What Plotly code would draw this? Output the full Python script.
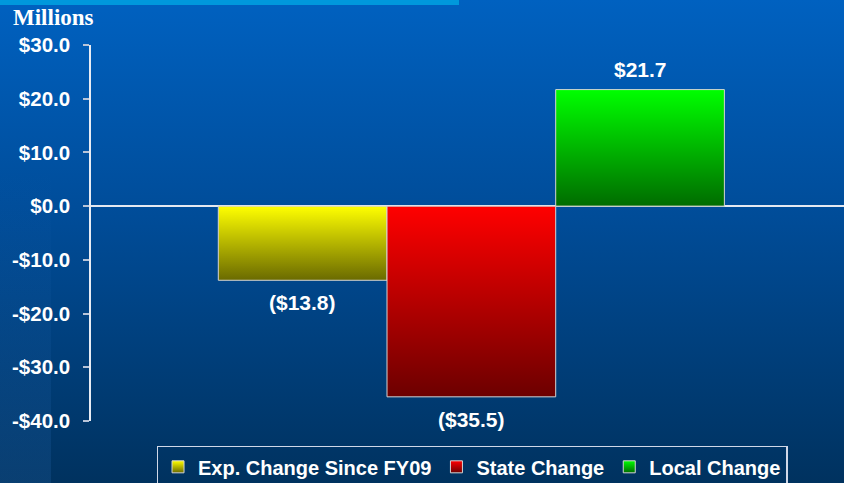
import json
import plotly.graph_objects as go

# ---- data ----
categories = ["Exp. Change Since FY09", "State Change", "Local Change"]
values = [-13.8, -35.5, 21.7]
top_colors = ["#FFFF00", "#FF0000", "#00FF00"]
bottom_colors = ["#6A6A00", "#6C0000", "#006C00"]
mid_colors = ["#B5B500", "#B50000", "#00B500"]
y_tick_vals = [-40, -30, -20, -10, 0, 10, 20, 30]
y_tick_text = ["-$40.0", "-$30.0", "-$20.0", "-$10.0", "$0.0", "$10.0", "$20.0", "$30.0"]
unit_label = "Millions"


def fmt(v):
    return f"${v:.1f}" if v >= 0 else f"(${-v:.1f})"


FONT = "Liberation Sans, Arial, sans-serif"

fig = go.Figure()
for c, v, col in zip(categories, values, mid_colors):
    fig.add_trace(go.Bar(
        x=[c], y=[v], name=c, width=1,
        marker=dict(color=col, line=dict(color="#D4D4D4", width=1)),
        hoverinfo="skip",
    ))

annotations = []
for c, v in zip(categories, values):
    annotations.append(dict(
        x=c, y=v, xref="x", yref="y", text=fmt(v), showarrow=False,
        yanchor="bottom" if v >= 0 else "top",
        yshift=7 if v >= 0 else -9,
        font=dict(family=FONT, size=21, color="white", weight="bold"),
    ))

annotations.append(dict(
    x=-0.1062, y=1.112, xref="paper", yref="paper", xanchor="left", yanchor="top",
    text=unit_label, showarrow=False,
    font=dict(family="Liberation Serif, Times New Roman, serif", size=23,
              color="white", weight="bold"),
))

fig.update_layout(
    width=844, height=483,
    margin=dict(l=91, r=0, t=45, b=62, autoexpand=False),
    paper_bgcolor="rgba(0,0,0,0)",
    plot_bgcolor="rgba(0,0,0,0)",
    barmode="overlay",
    showlegend=True,
    legend=dict(
        orientation="h", x=0.506, xanchor="center", y=-0.066, yanchor="top",
        bgcolor="rgba(0,0,0,0)", bordercolor="#D0D8E8", borderwidth=1.5,
        font=dict(family=FONT, size=20, color="white", weight="bold"),
        itemwidth=30,
    ),
    xaxis=dict(
        type="category", categoryorder="array", categoryarray=categories,
        range=[-1.2546, 3.209], showticklabels=False, showline=False,
        showgrid=False, zeroline=False, ticks="", fixedrange=True,
    ),
    yaxis=dict(
        range=[-40, 30], tickvals=y_tick_vals, ticktext=y_tick_text,
        ticks="outside", ticklen=6, tickwidth=1.5, tickcolor="#B8C4D8",
        showline=True, linecolor="#E8ECF4", linewidth=1.5,
        showgrid=False, zeroline=True, zerolinecolor="#E4E8F0", zerolinewidth=1.5,
        tickfont=dict(family=FONT, size=20.5, color="white", weight="bold"),
        ticklabelstandoff=9, fixedrange=True,
    ),
    annotations=annotations,
    shapes=[dict(
        type="rect", xref="paper", yref="paper",
        x0=-91 / 753, x1=(459 - 91) / 753, y0=1 + 40 / 376, y1=1 + 46 / 376,
        fillcolor="#0098DC", line=dict(width=0), layer="below",
    )],
)

grads = json.dumps([[t, b] for t, b in zip(top_colors, bottom_colors)])

post = """
var gd = document.getElementById('{plot_id}');
document.body.style.margin = '0';
gd.style.background = 'linear-gradient(to bottom, rgba(60,130,210,0) 35%, rgba(60,130,210,0.16) 100%) 0 0/51px 100% no-repeat, linear-gradient(to bottom, #0061C0 0%, #004C98 45%, #00325F 100%)';
var GR = """ + grads + """;
function applyGrad(){
  var svg = gd.querySelector('svg.main-svg');
  if(!svg) return;
  var ns = 'http://www.w3.org/2000/svg';
  var defs = svg.querySelector('defs');
  GR.forEach(function(g, i){
    var id = 'bargrad' + i;
    if(document.getElementById(id)) return;
    var lg = document.createElementNS(ns, 'linearGradient');
    lg.setAttribute('id', id);
    lg.setAttribute('x1', '0'); lg.setAttribute('y1', '0');
    lg.setAttribute('x2', '0'); lg.setAttribute('y2', '1');
    [[0, g[0]], [1, g[1]]].forEach(function(s){
      var st = document.createElementNS(ns, 'stop');
      st.setAttribute('offset', s[0]);
      st.setAttribute('stop-color', s[1]);
      lg.appendChild(st);
    });
    defs.appendChild(lg);
  });
  gd.querySelectorAll('.barlayer .trace').forEach(function(t, i){
    t.querySelectorAll('path').forEach(function(p){ p.style.fill = 'url(#bargrad' + i + ')'; });
  });
  gd.querySelectorAll('.legend .traces').forEach(function(t, i){
    t.querySelectorAll('.legendpoints path').forEach(function(p){ p.style.fill = 'url(#bargrad' + i + ')'; });
  });
}
applyGrad();
gd.on('plotly_afterplot', applyGrad);
"""

fig.write_html("out.html", post_script=post, config={"displayModeBar": False})
